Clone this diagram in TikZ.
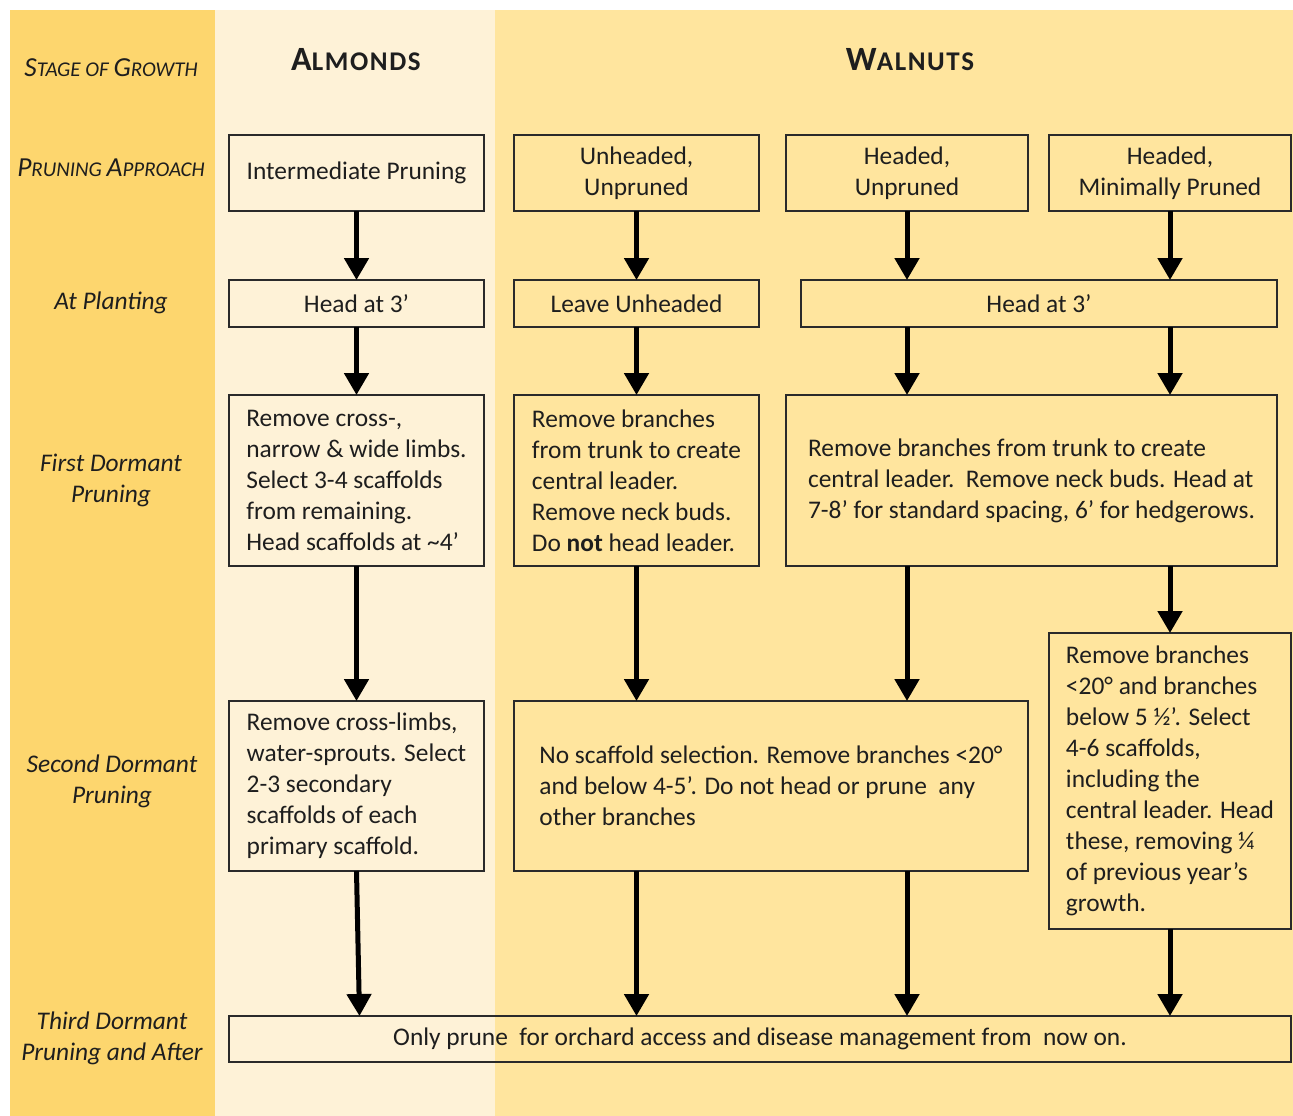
\documentclass[tikz,border=0pt]{standalone}
\usepackage{fontspec}
\setmainfont{Carlito}
\usetikzlibrary{arrows.meta,calc}
\definecolor{gold}{HTML}{FDD66E}
\definecolor{cream}{HTML}{FEF2D7}
\definecolor{wal}{HTML}{FFE59E}
\definecolor{ink}{HTML}{1E1E1E}
\definecolor{edge}{HTML}{2A2A2A}
\newcommand\fs{\fontsize{25.4}{31}\selectfont}
\newcommand\capbig{\fontsize{27.5}{31}\selectfont}
\newcommand\capsml{\fontsize{21}{31}\selectfont}
\tikzset{
 box/.style={draw=edge, line width=1.5pt, inner sep=0pt, outer sep=0pt, align=center, font=\fs, text=ink},
 abox/.style={box, fill=cream},
 wbox/.style={box, fill=wal},
 arr/.style={line width=5pt, draw=black, -{Triangle[length=22pt,width=24pt]}},
 lab/.style={font=\fs\itshape, align=center, text=ink, inner sep=0pt},
 head/.style={font=\bfseries\addfontfeature{LetterSpace=6}, text=ink, inner sep=0pt},
}
\begin{document}
\begin{tikzpicture}[x=1pt,y=-1pt]
\useasboundingbox (0,0) rectangle (1293,1116);
\fill[white] (0,0) rectangle (1293,1116);
\fill[gold] (10,10) rectangle (215,1116);
\fill[cream] (215,10) rectangle (495,1116);
\fill[wal] (495,10) rectangle (1293,1116);

% row labels
\node[lab] (L0) at (111,68) {{\capbig S}{\capsml TAGE OF }{\capbig G}{\capsml ROWTH}};
\node[lab] (L1) at (111,168) {{\capbig P}{\capsml RUNING }{\capbig A}{\capsml PPROACH}};
\node[lab] (L2) at (111,303) {At Planting};
\node[lab] (L3) at (111,480) {First Dormant\\Pruning};
\node[lab] (L4) at (112,781) {Second Dormant\\Pruning};
\node[lab] (L5) at (112,1038) {Third Dormant\\Pruning and After};

% headers
\node[head] (HA) at (356,60) {{\fontsize{34}{34}\selectfont A}{\fontsize{27}{34}\selectfont LMONDS}};
\node[head] (HW) at (910,60) {{\fontsize{34}{34}\selectfont W}{\fontsize{27}{34}\selectfont ALNUTS}};

% row 1
\node[abox, minimum width=255, minimum height=76] (A1) at (356.5,173) {Intermediate Pruning};
\node[wbox, minimum width=245, minimum height=76] (W1a) at (636.5,173) {Unheaded,\\Unpruned};
\node[wbox, minimum width=242, minimum height=76] (W1b) at (907,173) {Headed,\\Unpruned};
\node[wbox, minimum width=242, minimum height=76] (W1c) at (1170,173) {Headed,\\Minimally Pruned};

% row 2
\node[abox, minimum width=255, minimum height=47] (A2) at (356.5,303.5) {Head at 3’};
\node[wbox, minimum width=245, minimum height=47] (W2a) at (636.5,303.5) {Leave Unheaded};
\node[wbox, minimum width=476, minimum height=47] (W2b) at (1039,303.5) {Head at 3’};

% row 3
\node[abox, align=left, minimum width=255, minimum height=171] (A3) at (356.5,480.5)
 {Remove cross-,\\narrow \& wide limbs.\\Select 3-4 scaffolds\\from remaining.\\Head scaffolds at \textasciitilde4’};
\node[wbox, align=left, minimum width=245, minimum height=171] (W3a) at (636.5,480.5)
 {Remove branches\\from trunk to create\\central leader.\\Remove neck buds.\\Do \textbf{not} head leader.};
\node[wbox, align=left, minimum width=491, minimum height=171] (W3b) at (1031.5,480.5)
 {Remove branches from trunk to create\\central leader.\ \ Remove neck buds. Head at\\7-8’ for standard spacing, 6’ for hedgerows.};

% row 4
\node[wbox, align=left, minimum width=242, minimum height=296] (W4c) at (1170,781)
 {Remove branches\\<20° and branches\\below 5 ½’. Select\\4-6 scaffolds,\\including the\\central leader. Head\\these, removing ¼\\of previous year’s\\growth.};
\node[abox, align=left, minimum width=255, minimum height=170] (A4) at (356.5,786)
 {Remove cross-limbs,\\water-sprouts. Select\\2-3 secondary\\scaffolds of each\\primary scaffold.};
\node[wbox, align=left, minimum width=514, minimum height=170] (W4ab) at (771,786)
 {No scaffold selection. Remove branches <20°\\and below 4-5’. Do not head or prune\ \ any\\other branches};

% bottom
\node[box, minimum width=1062, minimum height=46] (B) at (760,1039)
 {Only prune\ \ for orchard access and disease management from\ \ now on.};

% arrows: almonds
\draw[arr] (A1.south) -- (A2.north);
\draw[arr] (A2.south) -- (A3.north);
\draw[arr] (A3.south) -- (A4.north);
\draw[arr] (A4.south) -- ([xshift=3pt]A4.south |- B.north);

% arrows: walnuts
\draw[arr] (W1a.south) -- (W2a.north);
\draw[arr] (W2a.south) -- (W3a.north);
\draw[arr] (W3a.south) -- (W3a.south |- W4ab.north);
\draw[arr] (W4ab.south -| W3a.south) -- (W3a.south |- B.north);

\draw[arr] (W1b.south) -- (W1b.south |- W2b.north);
\draw[arr] (W2b.south -| W1b.south) -- (W1b.south |- W3b.north);
\draw[arr] (W3b.south -| W1b.south) -- (W1b.south |- W4ab.north);
\draw[arr] (W4ab.south -| W1b.south) -- (W1b.south |- B.north);

\draw[arr] (W1c.south) -- (W1c.south |- W2b.north);
\draw[arr] (W2b.south -| W1c.south) -- (W1c.south |- W3b.north);
\draw[arr] (W3b.south -| W4c.north) -- (W4c.north);
\draw[arr] (W4c.south) -- (W4c.south |- B.north);
\end{tikzpicture}
\end{document}
